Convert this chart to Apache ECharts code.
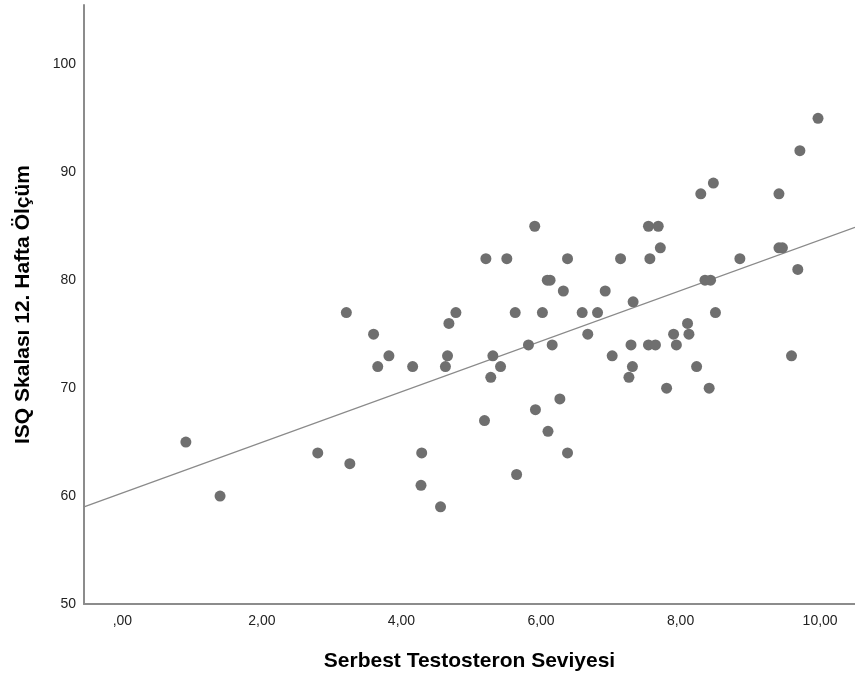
<!DOCTYPE html>
<html>
<head>
<meta charset="utf-8">
<script src="https://cdn.jsdelivr.net/npm/echarts@6/dist/echarts.min.js"></script>
<style>
  html, body { margin: 0; padding: 0; background: #fff; }
  #myChart { width: 855px; height: 680px; }
</style>
</head>
<body>
<div id="myChart"></div>
<script>
// Serbest Testosteron Seviyesi (x)
var testosteron = [
  0.91, 1.40, 2.80, 3.26, 3.21, 3.60, 3.66, 3.82, 4.16, 4.29,
  4.28, 4.56, 4.63, 4.66, 4.68, 4.78, 5.19, 5.21, 5.28, 5.31,
  5.42, 5.51, 5.63, 5.65, 5.82, 5.91, 5.92, 6.02, 6.09, 6.13,
  6.10, 6.16, 6.27, 6.32, 6.38, 6.38, 6.59, 6.67, 6.81, 6.92,
  7.02, 7.14, 7.26, 7.29, 7.31, 7.32, 7.54, 7.68, 7.71, 7.56,
  7.54, 7.64, 7.80, 7.90, 7.94, 8.10, 8.12, 8.23, 8.29, 8.35,
  8.41, 8.43, 8.47, 8.50, 8.85, 9.41, 9.41, 9.46, 9.59, 9.68,
  9.71, 9.97
];
// ISQ Skalası 12. Hafta Ölçüm (y)
var isq = [
  65, 60, 64, 63, 77, 75, 72, 73, 72, 64,
  61, 59, 72, 73, 76, 77, 67, 82, 71, 73,
  72, 82, 77, 62, 74, 85, 68, 77, 80, 80,
  66, 74, 69, 79, 82, 64, 77, 75, 77, 79,
  73, 82, 71, 74, 72, 78, 85, 85, 83, 82,
  74, 74, 70, 75, 74, 76, 75, 72, 88, 80,
  70, 80, 89, 77, 82, 88, 83, 83, 73, 81,
  92, 95
];
// fit line ends
var fitX = [-0.55, 10.5];
var fitY = [59.0, 84.9];
var xTicks = [0, 2, 4, 6, 8, 10];

var myChart = echarts.init(document.getElementById("myChart"));
var points = testosteron.map(function (v, i) { return [v, isq[i]]; });
var fitLine = fitX.map(function (v, i) { return [v, fitY[i]]; });

var labelFont = { fontFamily: "Liberation Sans", fontSize: 14, color: "#222" };
var nameFont = { fontFamily: "Liberation Sans", fontSize: 21, fontWeight: "bold", color: "#000" };

myChart.setOption({
  animation: false,
  grid: { left: 84, right: 0, top: 5, bottom: 76 },
  xAxis: {
    type: "value",
    min: -0.55,
    max: 10.5,
    name: "Serbest Testosteron Seviyesi",
    nameLocation: "middle",
    nameGap: 47,
    nameTextStyle: nameFont,
    axisLine: { onZero: false, lineStyle: { color: "#8c8c8c", width: 2 } },
    axisTick: { show: false },
    splitLine: { show: false },
    axisLabel: Object.assign({
      customValues: xTicks,
      margin: 10,
      formatter: function (v) {
        var s = v.toFixed(2).replace(".", ",");
        return s.indexOf("0,") === 0 ? s.substring(1) : s;
      }
    }, labelFont)
  },
  yAxis: {
    type: "value",
    min: 50,
    max: 105.5,
    interval: 10,
    name: "ISQ Skalası 12. Hafta Ölçüm",
    nameLocation: "middle",
    nameGap: 50,
    nameTextStyle: nameFont,
    axisLine: { show: true, onZero: false, lineStyle: { color: "#8c8c8c", width: 2 } },
    axisTick: { show: false },
    splitLine: { show: false },
    axisLabel: Object.assign({
      margin: 8,
      formatter: function (v) { return v % 10 === 0 ? String(v) : ""; }
    }, labelFont)
  },
  series: [
    {
      type: "line",
      data: fitLine,
      symbol: "none",
      silent: true,
      lineStyle: { color: "#8a8a8a", width: 1.3 },
      z: 1
    },
    {
      type: "scatter",
      data: points,
      symbolSize: 11,
      itemStyle: { color: "#6f6f6f", opacity: 1 },
      z: 2
    }
  ]
});
</script>
</body>
</html>
